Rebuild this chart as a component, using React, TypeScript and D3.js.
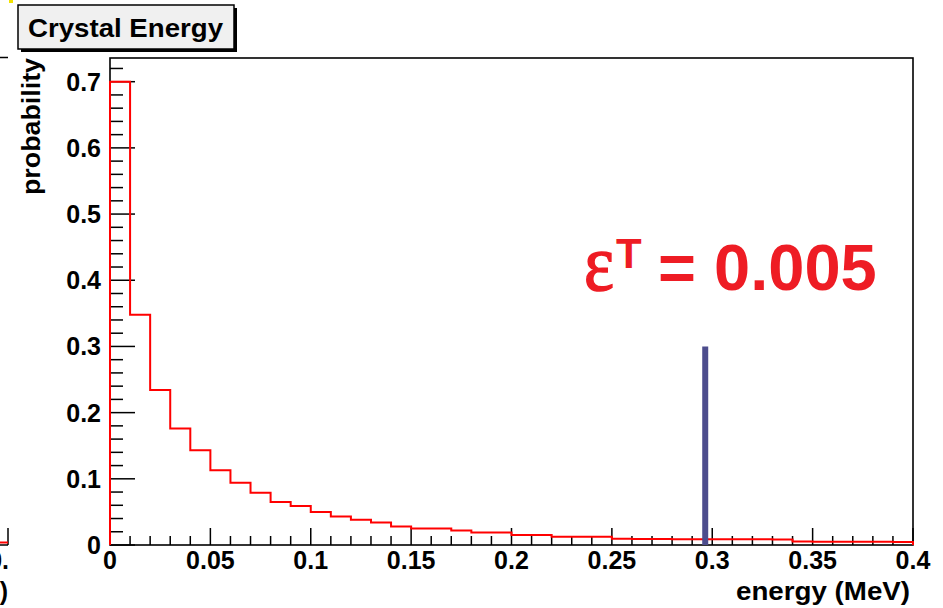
import React from "react";
import * as d3 from "d3";

// Histogram: bin lower edges (MeV) and probability per bin (bin width 0.01)
const binEdges: number[] = [
  0.0, 0.01, 0.02, 0.03, 0.04, 0.05, 0.06, 0.07, 0.08, 0.09,
  0.1, 0.11, 0.12, 0.13, 0.14, 0.15, 0.16, 0.17, 0.18, 0.19,
  0.2, 0.21, 0.22, 0.23, 0.24, 0.25, 0.26, 0.27, 0.28, 0.29,
  0.3, 0.31, 0.32, 0.33, 0.34, 0.35, 0.36, 0.37, 0.38, 0.39, 0.4,
];
const probabilities: number[] = [
  0.7, 0.348, 0.234, 0.176, 0.143, 0.113, 0.094, 0.079, 0.065, 0.059,
  0.05, 0.043, 0.038, 0.034, 0.028, 0.025, 0.025, 0.022, 0.019, 0.019,
  0.015, 0.015, 0.0126, 0.0126, 0.0125, 0.0095, 0.009, 0.009, 0.0088, 0.0087,
  0.0086, 0.0085, 0.0085, 0.0084, 0.0052, 0.005, 0.005, 0.0049, 0.0048, 0.0047,
];
const thresholdX: number[] = [0.2965];
const thresholdY: number[] = [0.3];
const xTickLabels: string[] = ["0", "0.05", "0.1", "0.15", "0.2", "0.25", "0.3", "0.35", "0.4"];
const yTickLabels: string[] = ["0", "0.1", "0.2", "0.3", "0.4", "0.5", "0.6", "0.7"];
const titleText = "Crystal Energy";
const xTitle = "energy (MeV)";
const yTitle = "probability";

const FONT = "'Liberation Sans', Arial, Helvetica, sans-serif";

export default function App() {
  const W = 943;
  const H = 608;
  const left = 110, right = 913, top = 58, bottom = 545;
  const x = d3.scaleLinear().domain([0, 0.4]).range([left, right]);
  const y = d3.scaleLinear().domain([0, 0.7358]).range([bottom, top]);

  // step path
  const pts: [number, number][] = [[binEdges[0], 0]];
  probabilities.forEach((p, i) => {
    pts.push([binEdges[i], p]);
    pts.push([binEdges[i + 1], p]);
  });
  pts.push([binEdges[binEdges.length - 1], 0]);
  const line = d3.line<[number, number]>().x((d) => x(d[0])).y((d) => y(d[1]));

  const xMinor = d3.range(0, 41).map((i) => i / 100);
  const yMinor = d3.range(0, 37).map((i) => i * 0.02);

  return (
    <svg width={W} height={H} style={{ position: "absolute", left: 0, top: 0, background: "#fff" }}>
      <rect x={0} y={0} width={W} height={H} fill="#fff" />
      {/* neighbour-panel remnants */}
      <rect x={9} y={0} width={4} height={3} fill="#f2e200" />
      <line x1={0} x2={8} y1={57.5} y2={57.5} stroke="#000" strokeWidth={1.5} />
      <line x1={0} x2={8} y1={bottom} y2={bottom} stroke="#000" strokeWidth={1.5} />
      <line x1={8} x2={8} y1={528} y2={bottom} stroke="#000" strokeWidth={1.5} />
      <line x1={0} x2={8} y1={542.5} y2={542.5} stroke="#ff0000" strokeWidth={2} />
      <text x={9} y={569} textAnchor="end" fontFamily={FONT} fontWeight="bold" fontSize={25}>0.</text>
      <text x={8} y={600} textAnchor="end" fontFamily={FONT} fontWeight="bold" fontSize={25}>)</text>

      {/* title box */}
      <rect x={21} y={8} width={216} height={44} fill="#000" />
      <rect x={18} y={5} width={216} height={44} fill="#f0f0f0" stroke="#000" strokeWidth={1.5} />
      <text x={28} y={37} fontFamily={FONT} fontWeight="bold" fontSize={25} textLength={195} lengthAdjust="spacingAndGlyphs">{titleText}</text>

      {/* frame */}
      <rect x={left} y={top} width={right - left} height={bottom - top} fill="none" stroke="#000" strokeWidth={1.6} />

      {/* y ticks */}
      {yMinor.map((v, i) => {
        const major = i % 5 === 0;
        return <line key={"ym" + i} x1={left} x2={left + (major ? 25 : 13)} y1={y(v)} y2={y(v)} stroke="#000" strokeWidth={1.5} />;
      })}
      {yTickLabels.map((t) => (
        <text key={"yl" + t} x={101} y={y(+t) + 9} textAnchor="end" fontFamily={FONT} fontWeight="bold" fontSize={25}>{t}</text>
      ))}
      {/* x ticks */}
      {xMinor.map((v, i) => {
        const major = i % 5 === 0;
        return <line key={"xm" + i} x1={x(v)} x2={x(v)} y1={bottom} y2={bottom - (major ? 17 : 9)} stroke="#000" strokeWidth={1.5} />;
      })}
      {xTickLabels.map((t) => (
        <text key={"xl" + t} x={x(+t)} y={568.5} textAnchor="middle" fontFamily={FONT} fontWeight="bold" fontSize={25}>{t}</text>
      ))}

      {/* histogram */}
      <path d={line(pts) || ""} fill="none" stroke="#ff0000" strokeWidth={2} />

      {/* threshold bar */}
      <line x1={x(thresholdX[0])} x2={x(thresholdX[0])} y1={y(0)} y2={y(thresholdY[0])} stroke="#4d4d8d" strokeWidth={6} />

      {/* axis titles */}
      <text x={910} y={600} textAnchor="end" fontFamily={FONT} fontWeight="bold" fontSize={25} textLength={174} lengthAdjust="spacingAndGlyphs">{xTitle}</text>
      <text transform={`translate(40,${top}) rotate(-90)`} textAnchor="end" fontFamily={FONT} fontWeight="bold" fontSize={25} textLength={137} lengthAdjust="spacingAndGlyphs">{yTitle}</text>

      {/* annotation */}
      <text x={584} y={290} fontFamily="'Liberation Serif', 'DejaVu Serif', serif" fontSize={80} fill="#ee1c24" stroke="#ee1c24" strokeWidth={1.6} textLength={30} lengthAdjust="spacingAndGlyphs">ε</text>
      <text x={616} y={268} fontFamily={FONT} fontWeight="bold" fontSize={42} fill="#ee1c24">T</text>
      <text x={658} y={290} fontFamily={FONT} fontWeight="bold" fontSize={65} fill="#ee1c24">= 0.005</text>
    </svg>
  );
}
